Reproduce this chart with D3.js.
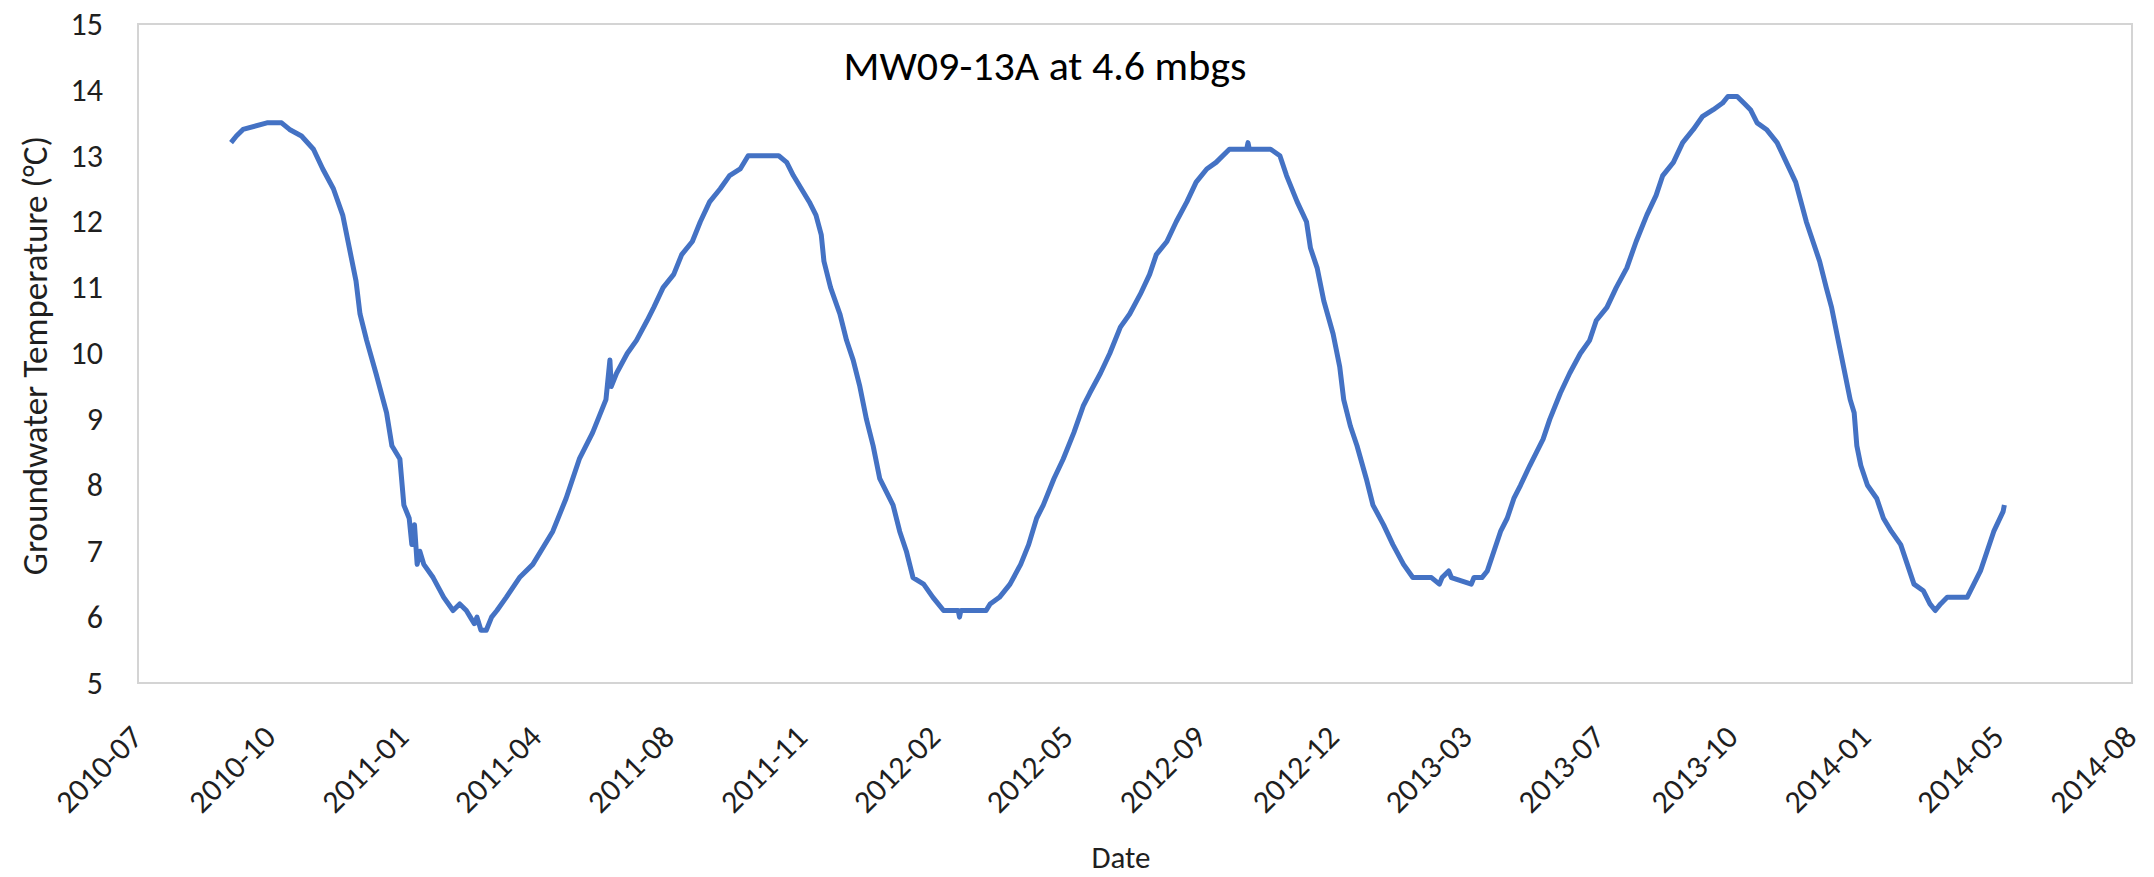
<!DOCTYPE html>
<html>
<head>
<meta charset="utf-8">
<script src="https://cdn.jsdelivr.net/npm/d3@7"></script>
<style>
    body { margin: 0; background: #fff; }
    svg { display: block; font-family: Calibri, Carlito, Lato, sans-serif; }
    .axis path { display: none; }
    .axis text { fill: #1f1f1f; }
</style>
</head>
<body>
<svg width="2154" height="877"></svg>
<script>

// readings taken off the chart (date, groundwater temperature in degC)
var dates = [
    "2010-09-09", "2010-09-13", "2010-09-18", "2010-10-06", "2010-10-17", "2010-10-23", "2010-11-01", "2010-11-10",
    "2010-11-17", "2010-11-25", "2010-12-02", "2010-12-07", "2010-12-12", "2010-12-15", "2010-12-20", "2010-12-27",
    "2011-01-04", "2011-01-08", "2011-01-14", "2011-01-17", "2011-01-21", "2011-01-23", "2011-01-25", "2011-01-27",
    "2011-01-29", "2011-02-01", "2011-02-08", "2011-02-16", "2011-02-23", "2011-02-28", "2011-03-05", "2011-03-08",
    "2011-03-11", "2011-03-13", "2011-03-16", "2011-03-20", "2011-03-24", "2011-03-28", "2011-04-04", "2011-04-14",
    "2011-04-24", "2011-05-09", "2011-05-19", "2011-05-29", "2011-06-08", "2011-06-18", "2011-06-21", "2011-06-22",
    "2011-06-26", "2011-07-04", "2011-07-11", "2011-07-19", "2011-07-24", "2011-07-31", "2011-08-08", "2011-08-14",
    "2011-08-22", "2011-08-28", "2011-09-04", "2011-09-12", "2011-09-19", "2011-09-27", "2011-10-03", "2011-10-26",
    "2011-11-01", "2011-11-06", "2011-11-12", "2011-11-18", "2011-11-23", "2011-11-27", "2011-11-29", "2011-12-04",
    "2011-12-11", "2011-12-16", "2011-12-21", "2011-12-26", "2011-12-31", "2012-01-05", "2012-01-10", "2012-01-15",
    "2012-01-20", "2012-01-25", "2012-01-30", "2012-02-04", "2012-02-12", "2012-02-19", "2012-02-27", "2012-03-09",
    "2012-03-10", "2012-03-11", "2012-03-30", "2012-04-02", "2012-04-09", "2012-04-17", "2012-04-25", "2012-05-01",
    "2012-05-07", "2012-05-12", "2012-05-20", "2012-05-27", "2012-06-04", "2012-06-11", "2012-06-16", "2012-06-24",
    "2012-07-01", "2012-07-09", "2012-07-16", "2012-07-24", "2012-07-31", "2012-08-05", "2012-08-13", "2012-08-20",
    "2012-08-28", "2012-09-04", "2012-09-12", "2012-09-19", "2012-09-29", "2012-10-12", "2012-10-13", "2012-10-14",
    "2012-10-30", "2012-11-06", "2012-11-11", "2012-11-19", "2012-11-26", "2012-11-29", "2012-12-04", "2012-12-09",
    "2012-12-16", "2012-12-21", "2012-12-24", "2012-12-29", "2013-01-03", "2013-01-10", "2013-01-15", "2013-01-23",
    "2013-01-30", "2013-02-07", "2013-02-14", "2013-02-20", "2013-02-28", "2013-03-06", "2013-03-08", "2013-03-13",
    "2013-03-15", "2013-03-30", "2013-04-01", "2013-04-07", "2013-04-11", "2013-04-16", "2013-04-21", "2013-04-26",
    "2013-05-01", "2013-05-06", "2013-05-13", "2013-05-18", "2013-05-23", "2013-05-28", "2013-06-05", "2013-06-12",
    "2013-06-20", "2013-06-27", "2013-07-02", "2013-07-10", "2013-07-17", "2013-07-25", "2013-08-01", "2013-08-09",
    "2013-08-16", "2013-08-21", "2013-08-29", "2013-09-05", "2013-09-13", "2013-09-20", "2013-09-28", "2013-10-05",
    "2013-10-09", "2013-10-16", "2013-10-21", "2013-10-26", "2013-10-31", "2013-11-07", "2013-11-15", "2013-11-22",
    "2013-11-29", "2013-12-03", "2013-12-07", "2013-12-12", "2013-12-17", "2013-12-22", "2013-12-26", "2013-12-29",
    "2014-01-01", "2014-01-05", "2014-01-09", "2014-01-12", "2014-01-14", "2014-01-17", "2014-01-22", "2014-01-29",
    "2014-02-03", "2014-02-09", "2014-02-16", "2014-02-21", "2014-02-26", "2014-03-05", "2014-03-10", "2014-03-14",
    "2014-03-18", "2014-03-23", "2014-04-07", "2014-04-12", "2014-04-17", "2014-04-22", "2014-04-27", "2014-05-04",
    "2014-05-05"
];

var temps = [
    13.2, 13.3, 13.4, 13.5, 13.5, 13.4, 13.3, 13.1,
    12.8, 12.5, 12.1, 11.6, 11.1, 10.6, 10.2, 9.7,
    9.1, 8.6, 8.4, 7.7, 7.5, 7.1, 7.4, 6.8,
    7.0, 6.8, 6.6, 6.3, 6.1, 6.2, 6.1, 6.0,
    5.9, 6.0, 5.8, 5.8, 6.0, 6.1, 6.3, 6.6,
    6.8, 7.3, 7.8, 8.4, 8.8, 9.3, 9.9, 9.5,
    9.7, 10.0, 10.2, 10.5, 10.7, 11.0, 11.2, 11.5,
    11.7, 12.0, 12.3, 12.5, 12.7, 12.8, 13.0, 13.0,
    12.9, 12.7, 12.5, 12.3, 12.1, 11.8, 11.4, 11.0,
    10.6, 10.2, 9.9, 9.5, 9.0, 8.6, 8.1, 7.9,
    7.7, 7.3, 7.0, 6.6, 6.5, 6.3, 6.1, 6.1,
    6.0, 6.1, 6.1, 6.2, 6.3, 6.5, 6.8, 7.1,
    7.5, 7.7, 8.1, 8.4, 8.8, 9.2, 9.4, 9.7,
    10.0, 10.4, 10.6, 10.9, 11.2, 11.5, 11.7, 12.0,
    12.3, 12.6, 12.8, 12.9, 13.1, 13.1, 13.2, 13.1,
    13.1, 13.0, 12.7, 12.3, 12.0, 11.6, 11.3, 10.8,
    10.3, 9.8, 9.3, 8.9, 8.6, 8.1, 7.7, 7.4,
    7.1, 6.8, 6.6, 6.6, 6.6, 6.5, 6.6, 6.7,
    6.6, 6.5, 6.6, 6.6, 6.7, 7.0, 7.3, 7.5,
    7.8, 8.0, 8.3, 8.5, 8.7, 9.0, 9.4, 9.7,
    10.0, 10.2, 10.5, 10.7, 11.0, 11.3, 11.7, 12.1,
    12.4, 12.7, 12.9, 13.2, 13.4, 13.6, 13.7, 13.8,
    13.9, 13.9, 13.8, 13.7, 13.5, 13.4, 13.2, 12.9,
    12.6, 12.3, 12.0, 11.7, 11.4, 11.0, 10.7, 10.4,
    10.1, 9.7, 9.3, 9.1, 8.6, 8.3, 8.0, 7.8,
    7.5, 7.3, 7.1, 6.8, 6.5, 6.4, 6.2, 6.1,
    6.2, 6.3, 6.3, 6.5, 6.7, 7.0, 7.3, 7.6,
    7.7
];

// the date axis steps 100 days at a time, labelled by month
var xTickDates = [
    "2010-07-01", "2010-10-09", "2011-01-17", "2011-04-27", "2011-08-05", "2011-11-13", "2012-02-21", "2012-05-31",
    "2012-09-08", "2012-12-17", "2013-03-27", "2013-07-05", "2013-10-13", "2014-01-21", "2014-05-01", "2014-08-09"
];
var yTicks = [5, 6, 7, 8, 9, 10, 11, 12, 13, 14, 15];

var chartTitle = "MW09-13A at 4.6 mbgs";
var xTitle = "Date";
var yTitle = "Groundwater Temperature (°C)";


var svg = d3.select("svg"),
    width = +svg.attr("width"),
    height = +svg.attr("height");

var margin = {top: 24, right: 22, bottom: 194, left: 138};
var plotW = width - margin.left - margin.right,
    plotH = height - margin.top - margin.bottom;

var parseDate = d3.utcParse("%Y-%m-%d");

var series = dates.map(function (d, i) {
    return {date: parseDate(d), value: temps[i]};
});

var x = d3.scaleUtc()
    .domain([parseDate(xTickDates[0]), parseDate(xTickDates[xTickDates.length - 1])])
    .range([0, plotW]);

var y = d3.scaleLinear()
    .domain([yTicks[0], yTicks[yTicks.length - 1]])
    .range([plotH, 0]);

var g = svg.append("g")
    .attr("transform", "translate(" + margin.left + "," + margin.top + ")");

// plot area border
g.append("rect")
    .attr("x", 0)
    .attr("y", 0)
    .attr("width", plotW)
    .attr("height", plotH)
    .attr("fill", "none")
    .attr("stroke", "#d4d4d4")
    .attr("stroke-width", 2);

var yAxis = g.append("g")
    .attr("class", "axis")
    .call(d3.axisLeft(y).tickValues(yTicks).tickSize(0).tickPadding(35));

yAxis.selectAll("text")
    .attr("font-size", 32)
    .attr("font-family", "Calibri, Carlito, Lato, sans-serif");

var xAxis = g.append("g")
    .attr("class", "axis")
    .attr("transform", "translate(0," + plotH + ")")
    .call(d3.axisBottom(x)
        .tickValues(xTickDates.map(parseDate))
        .tickFormat(d3.utcFormat("%Y-%m"))
        .tickSize(0));

xAxis.selectAll("text")
    .attr("font-size", 32)
    .attr("font-family", "Calibri, Carlito, Lato, sans-serif")
    .attr("text-anchor", "end")
    .attr("dy", "0.35em")
    .attr("transform", "translate(-4,46) rotate(-45)");

var line = d3.line()
    .x(function (d) {
        return x(d.date);
    })
    .y(function (d) {
        return y(d.value);
    });

g.append("path")
    .datum(series)
    .attr("fill", "none")
    .attr("stroke", "#4472c4")
    .attr("stroke-width", 5)
    .attr("stroke-linejoin", "round")
    .attr("d", line);

// titles
svg.append("text")
    .attr("x", 1045)
    .attr("y", 80)
    .attr("text-anchor", "middle")
    .attr("font-size", 42)
    .attr("fill", "#000")
    .text(chartTitle);

svg.append("text")
    .attr("x", margin.left + plotW / 2 - 14)
    .attr("y", 868)
    .attr("text-anchor", "middle")
    .attr("font-size", 31)
    .attr("fill", "#1f1f1f")
    .text(xTitle);

svg.append("text")
    .attr("transform", "translate(47," + (margin.top + plotH / 2 + 2) + ") rotate(-90)")
    .attr("text-anchor", "middle")
    .attr("font-size", 35)
    .attr("fill", "#1f1f1f")
    .text(yTitle);

</script>
</body>
</html>
